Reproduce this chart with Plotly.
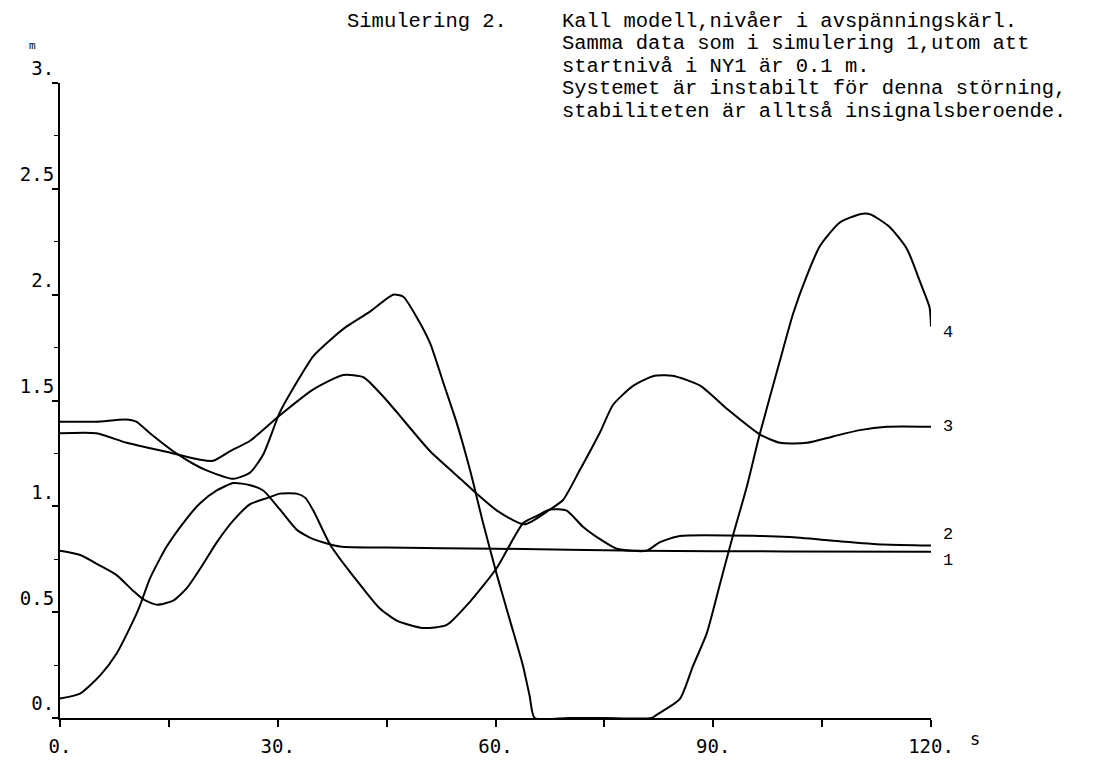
import plotly.graph_objects as go

# Simulated vessel levels (m) against time (s), four tanks
t1 = [0, 2.75, 5.5, 7.8, 10.1, 11, 12.4, 14.7, 17.4, 19.3, 21.6, 23.9, 26.2, 28, 30.3, 32.6,
      34.9, 38.6, 45, 60, 80, 100, 120]
v1 = [0.092, 0.115, 0.20, 0.305, 0.46, 0.53, 0.66, 0.81, 0.94, 1.015, 1.075, 1.11, 1.10, 1.075,
      0.985, 0.89, 0.845, 0.81, 0.805, 0.80, 0.79, 0.787, 0.785]

t2 = [0, 2.8, 5.5, 7.8, 10.1, 11.5, 13.4, 15.6, 17.5, 19.3, 21.6, 23.8, 26.2, 28.6, 30.3, 32.6,
      33.8, 34.9, 37.2, 39.5, 41.8, 44, 46.4, 50, 53.3, 56.5, 60.2, 63.8, 65.7, 67.5, 69.8, 72,
      74.4, 76.7, 80.8, 82.6, 85.4, 96.4, 100.5, 107.4, 113.4, 120]
v2 = [0.79, 0.77, 0.72, 0.675, 0.60, 0.56, 0.535, 0.555, 0.615, 0.705, 0.83, 0.93, 1.01, 1.04,
      1.06, 1.06, 1.04, 0.98, 0.82, 0.71, 0.61, 0.52, 0.46, 0.425, 0.44, 0.55, 0.71, 0.92, 0.955,
      0.985, 0.98, 0.905, 0.845, 0.80, 0.79, 0.83, 0.86, 0.86, 0.855, 0.835, 0.82, 0.815]

t3 = [0, 5, 9.2, 15.6, 19.3, 21.1, 23.4, 26.2, 30.3, 34.8, 39, 41.8, 44.5, 46.4, 51, 55.5, 57.4,
      60.2, 64, 67.5, 69.3, 71.6, 74.4, 76.2, 79, 81.7, 84.4, 88.2, 91.9, 96.4, 99.2, 102.9,
      106.5, 110.2, 113.9, 120]
v3 = [1.345, 1.345, 1.30, 1.25, 1.22, 1.215, 1.26, 1.31, 1.43, 1.55, 1.62, 1.61, 1.52, 1.445,
      1.26, 1.12, 1.06, 0.98, 0.915, 0.985, 1.03, 1.17, 1.35, 1.48, 1.57, 1.615, 1.617, 1.57,
      1.46, 1.34, 1.30, 1.30, 1.33, 1.36, 1.376, 1.376]

t4 = [0, 5, 9, 10.5, 12.4, 15.6, 18.4, 20.2, 23.9, 26.2, 28, 30.3, 32.6, 34.9, 37.2, 39.5, 42.7,
      45.9, 47.3, 49.2, 51, 52.8, 54.6, 56.5, 58.3, 60.2, 62, 63.8, 64.7, 65.4, 70, 75, 81.5,
      82.2, 85.4, 87.2, 89.1, 90.9, 92.7, 94.6, 96.4, 99.2, 101, 102.9, 104.7, 107.4, 110.2,
      111.6, 114.3, 116.7, 118.5, 119.8, 120]
v4 = [1.40, 1.40, 1.41, 1.40, 1.345, 1.26, 1.20, 1.17, 1.13, 1.16, 1.245, 1.445, 1.585, 1.71,
      1.785, 1.85, 1.92, 2.0, 1.99, 1.89, 1.77, 1.585, 1.40, 1.17, 0.92, 0.675, 0.46, 0.245,
      0.105, 0.0, 0.0, 0.0, 0.0, 0.015, 0.09, 0.245, 0.40, 0.63, 0.86, 1.09, 1.34, 1.69, 1.91,
      2.09, 2.23, 2.34, 2.38, 2.38, 2.32, 2.215, 2.06, 1.94, 1.85]

curves = [("1", t1, v1), ("2", t2, v2), ("3", t3, v3), ("4", t4, v4)]
# vertical nudge of each end label relative to its line end (m)
label_offset = {"1": -0.04, "2": 0.05, "3": 0.0, "4": -0.03}

x_ticks = [0, 30, 60, 90, 120]
x_ticktext = ["0.", "30.", "60.", "90.", "120."]
y_ticks = [0, 0.5, 1.0, 1.5, 2.0, 2.5, 3.0]
y_ticktext = ["0.", "0.5", "1.", "1.5", "2.", "2.5", "3."]

title_left = "Simulering 2."
title_lines = [
    "Kall modell,nivåer i avspänningskärl.",
    "Samma data som i simulering 1,utom att",
    "startnivå i NY1 är 0.1 m.",
    "Systemet är instabilt för denna störning,",
    "stabiliteten är alltså insignalsberoende.",
]

W, H = 1111, 769
ML, MR, MT, MB = 60, 180, 83, 36
PW, PH = W - ML - MR, H - MT - MB


def px(x, y):
    """Pixel position on the page -> paper coordinates."""
    return (x - ML) / PW, (H - MB - y) / PH


MONO = "Liberation Mono, Courier New, monospace"
PLOT_FONT = "DejaVu Sans Mono, monospace"
TITLE_SIZE = 20.5
LINE_STEP = 23
TITLE_TOP = 20

fig = go.Figure()
for name, t, v in curves:
    fig.add_trace(go.Scatter(
        x=t, y=v, mode="lines", name=name,
        line=dict(color="black", width=2, shape="spline", smoothing=0.6),
        showlegend=False, hoverinfo="skip",
    ))

annotations = []
for name, t, v in curves:
    annotations.append(dict(
        x=t[-1], y=v[-1] + label_offset[name], xref="x", yref="y", text=name,
        showarrow=False, xanchor="left", yanchor="middle", xshift=10,
        font=dict(family=MONO, size=17, color="black"),
    ))

ax, ay = px(345, TITLE_TOP)
annotations.append(dict(x=ax, y=ay, xref="paper", yref="paper", text=title_left,
                        showarrow=False, xanchor="left", yanchor="middle",
                        font=dict(family=MONO, size=TITLE_SIZE, color="black")))
for i, line in enumerate(title_lines):
    ax, ay = px(560, TITLE_TOP + i * LINE_STEP)
    annotations.append(dict(x=ax, y=ay, xref="paper", yref="paper", text=line,
                            showarrow=False, xanchor="left", yanchor="middle",
                            font=dict(family=MONO, size=TITLE_SIZE, color="black")))

# axis units
ax, ay = px(968, 754)
annotations.append(dict(x=ax, y=ay, xref="paper", yref="paper", text="s", showarrow=False,
                        xanchor="left", yanchor="middle",
                        font=dict(family=PLOT_FONT, size=17, color="black")))
ax, ay = px(32, 45)
annotations.append(dict(x=ax, y=ay, xref="paper", yref="paper", text="m", showarrow=False,
                        xanchor="center", yanchor="middle",
                        font=dict(family=PLOT_FONT, size=11, color="black")))

fig.update_layout(
    width=W, height=H,
    margin=dict(l=ML, r=MR, t=MT, b=MB, pad=0),
    paper_bgcolor="white", plot_bgcolor="white",
    annotations=annotations,
    xaxis=dict(
        range=[0, 120], showgrid=False, zeroline=False,
        showline=True, linecolor="black", linewidth=2,
        ticks="outside", ticklen=7, tickwidth=2, tickcolor="black",
        tickvals=x_ticks, ticktext=x_ticktext, ticklabelstandoff=3,
        minor=dict(dtick=15, tick0=0, ticks="outside", ticklen=7, tickwidth=2, tickcolor="black"),
        tickfont=dict(family=PLOT_FONT, size=19, color="black"),
    ),
    yaxis=dict(
        range=[0, 3], showgrid=False, zeroline=False,
        showline=True, linecolor="black", linewidth=2,
        ticks="outside", ticklen=6, tickwidth=2, tickcolor="black",
        tickvals=y_ticks, ticktext=y_ticktext,
        minor=dict(dtick=0.25, tick0=0, ticks="outside", ticklen=4, tickwidth=1, tickcolor="black"),
        tickfont=dict(family=PLOT_FONT, size=19, color="black"),
        ticklabelposition="outside top",
    ),
)

fig.write_html("out.html")
